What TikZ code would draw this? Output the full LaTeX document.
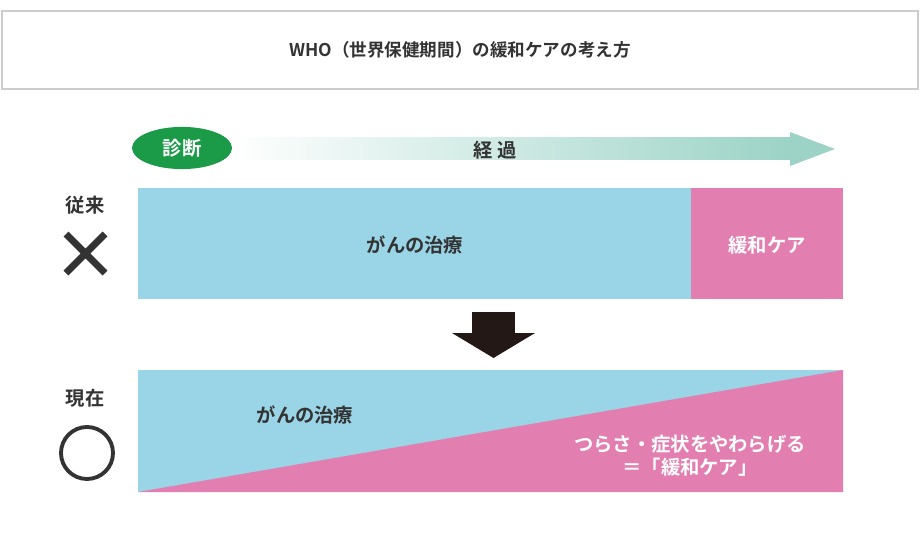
\documentclass[tikz,border=0pt]{standalone}
\usepackage{fontspec}
\setmainfont{Noto Sans CJK JP}[BoldFont={Noto Sans CJK JP Bold}]
\usetikzlibrary{shapes.geometric}
\definecolor{cblue}{HTML}{9AD4E7}
\definecolor{cpink}{HTML}{E27FB0}
\definecolor{cgreen}{HTML}{1B9A48}
\definecolor{cteal}{HTML}{9CD3C6}
\definecolor{cdark}{HTML}{231815}
\definecolor{ctext}{HTML}{333333}
\tikzset{lbl/.style={font=\bfseries\fontsize{11pt}{13pt}\selectfont,text=ctext,inner sep=0}}
\begin{document}
\begin{tikzpicture}[x=0.02cm,y=-0.02cm]
\useasboundingbox (0,0) rectangle (920,544);
\node[draw=black!20,line width=1pt,fill=white,minimum width=916*0.02cm,minimum height=78*0.02cm,lbl,font=\fontsize{10pt}{12pt}\selectfont\bfseries] (title) at (460,50) {WHO（世界保健期間）の緩和ケアの考え方};
% arrow
\shade[left color=white,right color=cteal,shading angle=90] (230,138) rectangle (790,160);
\fill[cteal] (790,132) -- (835,149) -- (790,166) -- cycle;
\node[ellipse,fill=cgreen,minimum width=100*0.02cm,minimum height=42*0.02cm,text=white,font=\bfseries\fontsize{11pt}{13pt}\selectfont] (diag) at (182,148) {診断};
\node[lbl] (keika) at (495,150) {経 過};
% bar 1
\fill[cblue] (138,188) rectangle (691,299);
\fill[cpink] (691,188) rectangle (843,299);
\node[lbl] (t1) at (415,245) {がんの治療};
\node[lbl,text=white] (k1) at (767,245) {緩和ケア};
\node[lbl] (old) at (85,205) {従来};
\draw[ctext,line width=4pt] (66,234) -- (105,273) (66,273) -- (105,234);
% down arrow
\fill[cdark] (472,312) rectangle (515,334);
\fill[cdark] (452,333) -- (535,333) -- (493.5,358) -- cycle;
% bar 2
\fill[cblue] (138,370) rectangle (843,492);
\fill[cpink] (138,492) -- (843,370) -- (843,492) -- cycle;
\node[lbl] (now) at (85,398) {現在};
\draw[ctext,line width=2.2pt] (87,453) circle[radius=26];
\node[lbl] (t2) at (305,415) {がんの治療};
\node[lbl,text=white,align=center] (k2) at (690,456) {つらさ・症状をやわらげる\\＝「緩和ケア」};
\end{tikzpicture}
\end{document}
